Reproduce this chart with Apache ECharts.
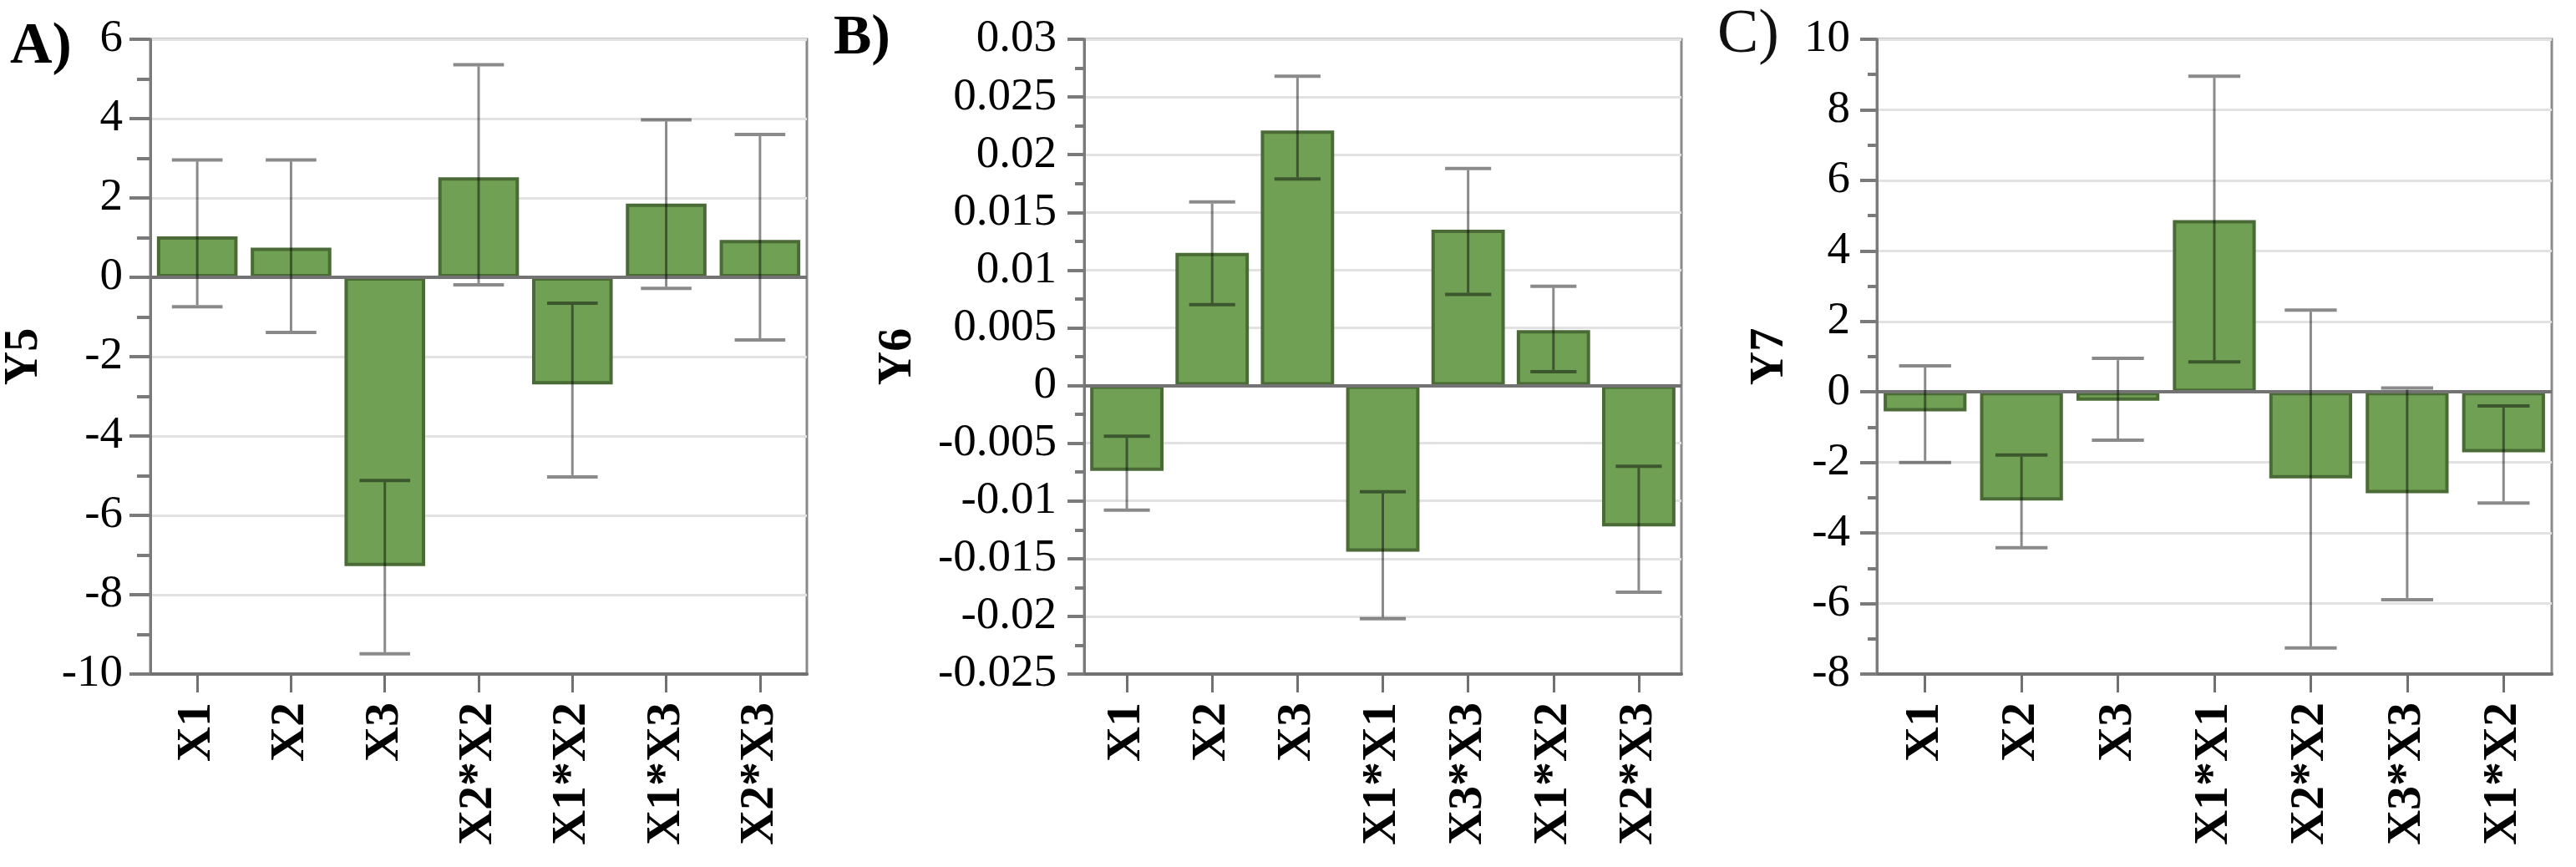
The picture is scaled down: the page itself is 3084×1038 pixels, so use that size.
<!DOCTYPE html>
<html><head><meta charset="utf-8">
<script src="https://cdn.jsdelivr.net/npm/echarts@6/dist/echarts.min.js"></script>
<style>html,body{margin:0;padding:0;background:#fff}#c{width:3084px;height:1038px}</style>
</head><body><div id="c"></div>
<script>
const catsA = ['X1','X2','X3','X2*X2','X1*X2','X1*X3','X2*X3'];
const valsA = [1.03, 0.75, -7.28, 2.52, -2.70, 1.86, 0.94];
const lowA  = [-0.74, -1.39, -9.49, -0.19, -5.03, -0.28, -1.58];
const highA = [2.96, 2.96, -5.12, 5.36, -0.65, 3.97, 3.60];

const catsB = ['X1','X2','X3','X1*X1','X3*X3','X1*X2','X2*X3'];
const valsB = [-0.0074, 0.0115, 0.0221, -0.0144, 0.0135, 0.0048, -0.0122];
const lowB  = [-0.0108, 0.0070, 0.0179, -0.0202, 0.0079, 0.0012, -0.0179];
const highB = [-0.0044, 0.0159, 0.0268, -0.0092, 0.0188, 0.0086, -0.0070];

const catsC = ['X1','X2','X3','X1*X1','X2*X2','X3*X3','X1*X2'];
const valsC = [-0.55, -3.08, -0.25, 4.87, -2.45, -2.87, -1.71];
const lowC  = [-2.0, -4.42, -1.37, 0.85, -7.26, -5.89, -3.15];
const highC = [0.74, -1.79, 0.95, 8.95, 2.32, 0.11, -0.40];

const yNames = ['Y5','Y6','Y7'];
const yMin = [-10, -0.025, -8];
const yMax = [6, 0.03, 10];
const yInt = [2, 0.005, 2];

const FONT = 'Liberation Serif';
const panels = [
  {cats: catsA, vals: valsA, low: lowA, high: highA},
  {cats: catsB, vals: valsB, low: lowB, high: highB},
  {cats: catsC, vals: valsC, low: lowC, high: highC}
];
const grids = [
  {left: 180, right: 3084 - 966, top: 47, bottom: 231},
  {left: 1298, right: 3084 - 2013, top: 47, bottom: 231},
  {left: 2247, right: 3084 - 3055, top: 47, bottom: 231}
];
const nameGaps = [122, 194, 99];
const labelMargins = [33, 33, 32];
const majorLen = [25, 20, 20];
const minorLen = [16, 11, 11];

function renderErr(params, api) {
  const x = api.value(0);
  const lo = api.coord([x, api.value(1)]);
  const hi = api.coord([x, api.value(2)]);
  const w = api.size([1, 0])[0] * 0.54;
  const col = 'rgba(0,0,0,0.46)';
  return {
    type: 'group',
    children: [
      {type: 'line', shape: {x1: lo[0], y1: lo[1] - 2, x2: hi[0], y2: hi[1] + 2}, style: {stroke: col, lineWidth: 3}},
      {type: 'line', shape: {x1: lo[0] - w / 2, y1: lo[1], x2: lo[0] + w / 2, y2: lo[1]}, style: {stroke: col, lineWidth: 4}},
      {type: 'line', shape: {x1: hi[0] - w / 2, y1: hi[1], x2: hi[0] + w / 2, y2: hi[1]}, style: {stroke: col, lineWidth: 4}}
    ]
  };
}

const option = {
  animation: false,
  backgroundColor: '#fff',
  grid: grids.map(g => Object.assign({show: true, borderColor: '#8a8a8a', borderWidth: 3, backgroundColor: 'transparent'}, g)),
  xAxis: panels.map((p, i) => ({
    type: 'category', gridIndex: i, data: p.cats,
    axisLine: {onZero: false, lineStyle: {color: '#707070', width: 4}},
    axisTick: {show: true, alignWithLabel: true, length: 22, lineStyle: {color: '#707070', width: 3}},
    axisLabel: {rotate: 90, margin: 34, fontFamily: FONT, fontWeight: 'bold', fontSize: 58, color: '#000'},
    splitLine: {show: false}
  })),
  yAxis: panels.map((p, i) => ({
    type: 'value', gridIndex: i, min: yMin[i], max: yMax[i], interval: yInt[i],
    name: yNames[i], nameLocation: 'middle', nameGap: nameGaps[i], nameRotate: 90,
    nameTextStyle: {fontFamily: FONT, fontWeight: 'bold', fontSize: 56, color: '#000'},
    axisLine: {show: true, lineStyle: {color: '#7a7a7a', width: 3}},
    axisTick: {show: true, length: majorLen[i], lineStyle: {color: '#7a7a7a', width: 4}},
    minorTick: {show: true, splitNumber: 2, length: minorLen[i], lineStyle: {color: '#7a7a7a', width: 4}},
    axisLabel: {margin: labelMargins[i], fontFamily: FONT, fontSize: 55, color: '#000'},
    splitLine: {show: true, lineStyle: {color: '#e2e2e2', width: 3}}
  })),
  series: [].concat(...panels.map((p, i) => [
    {
      type: 'bar', xAxisIndex: i, yAxisIndex: i, data: p.vals, barCategoryGap: '14%', z: 2,
      itemStyle: {color: '#6fa053', borderColor: '#4b6b36', borderWidth: 4},
      markLine: {silent: true, symbol: 'none', label: {show: false}, lineStyle: {color: '#737373', width: 4, type: 'solid'}, data: [{yAxis: 0}]}
    },
    {
      type: 'custom', xAxisIndex: i, yAxisIndex: i, z: 5,
      data: p.cats.map((c, j) => [j, p.low[j], p.high[j]]),
      encode: {x: 0, y: [1, 2]},
      renderItem: renderErr
    }
  ])),
  graphic: [
    {type: 'text', left: 12, top: 22, style: {text: 'A)', font: 'bold 70px "Liberation Serif"', fill: '#000'}},
    {type: 'text', left: 998, top: 12, style: {text: 'B)', font: 'bold 68px "Liberation Serif"', fill: '#000'}},
    {type: 'text', left: 2056, top: 6, style: {text: 'C)', font: '74px "Liberation Serif"', fill: '#111'}}
  ]
};
const chart = echarts.init(document.getElementById('c'));
chart.setOption(option);
</script></body></html>
